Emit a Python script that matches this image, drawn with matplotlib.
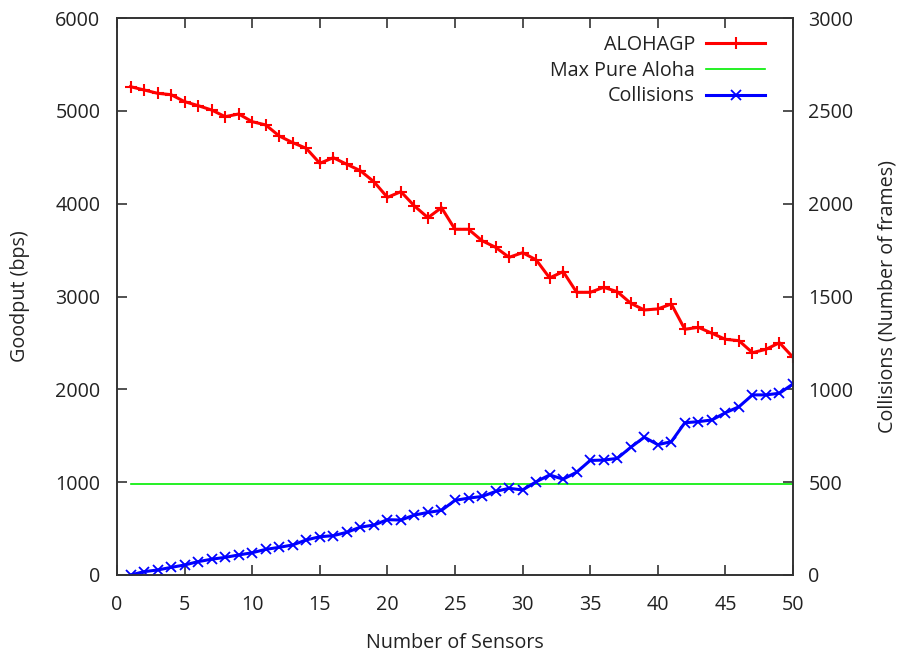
import matplotlib
matplotlib.use("Agg")
import matplotlib.pyplot as plt
import numpy as np

sensors = list(range(1, 51))
goodput = [5260, 5225, 5189, 5174, 5099, 5056, 5009, 4937, 4966, 4883,
           4848, 4729, 4657, 4596, 4435, 4495, 4424, 4355, 4237, 4068,
           4129, 3975, 3849, 3957, 3724, 3724, 3601, 3530, 3422, 3472,
           3395, 3200, 3268, 3045, 3045, 3099, 3052, 2927, 2855, 2866,
           2919, 2647, 2668, 2604, 2539, 2524, 2395, 2431, 2502, 2345]
collisions = [0, 18, 27, 41, 54, 72, 85, 95, 108, 120,
              138, 149, 162, 189, 206, 212, 230, 258, 269, 298,
              296, 323, 337, 348, 402, 414, 423, 450, 467, 458,
              502, 539, 516, 554, 617, 619, 628, 688, 742, 702,
              718, 820, 826, 835, 874, 906, 970, 970, 979, 1029]
max_pure_aloha = 980

plt.rcParams['font.family'] = ['Open Sans', 'DejaVu Sans']
fs = 14.2
fig = plt.figure(figsize=(8.98, 6.57), dpi=100)
ax = fig.add_axes([117/898, 82/657, (793-117)/898, (575-18)/657])
ax2 = ax.twinx()

l1, = ax.plot(sensors, goodput, color='#ff0000', lw=2.2, marker='+', ms=8, mew=1.5,
              label='ALOHAGP')
l2, = ax.plot([sensors[0], sensors[-1]], [max_pure_aloha, max_pure_aloha],
              color='#00ee00', lw=1.2, label='Max Pure Aloha')
l3, = ax2.plot(sensors, collisions, color='#0000ff', lw=2.2, marker='x', ms=6.5, mew=1.3,
               label='Collisions')

ax.set_xlim(0, 50)
ax.set_ylim(0, 6000)
ax2.set_ylim(0, 3000)
ax.set_xticks(range(0, 51, 5))
ax.set_yticks(range(0, 6001, 1000))
ax2.set_yticks(range(0, 3001, 500))

for a in (ax, ax2):
    for s in a.spines.values():
        s.set_color('#333333')
        s.set_linewidth(1.2)
ax.tick_params(axis='x', direction='in', top=True, length=7, width=1.2,
               labelsize=fs, pad=14.5, colors='#333333', labelcolor='#222222')
ax.tick_params(axis='y', direction='in', right=False, length=7, width=1.2,
               labelsize=fs, pad=12, colors='#333333', labelcolor='#222222')
ax2.tick_params(axis='y', direction='in', length=7, width=1.2,
                labelsize=fs, pad=11, colors='#333333', labelcolor='#222222')

ax.set_xlabel('Number of Sensors', fontsize=fs, color='#222222', labelpad=13)
ax.set_ylabel('Goodput (bps)', fontsize=fs, color='#222222', labelpad=18)
ax2.set_ylabel('Collisions (Number of frames)', fontsize=fs, color='#222222', labelpad=17.5)

leg = ax2.legend(handles=[l1, l2, l3], loc='upper right', frameon=False,
                 markerfirst=False, fontsize=fs, handlelength=3.0,
                 labelspacing=0.3, bbox_to_anchor=(0.985, 1.002),
                 handletextpad=0.55, numpoints=1)
for t in leg.get_texts():
    t.set_color('#222222')

fig.savefig('out.png', dpi=100)
